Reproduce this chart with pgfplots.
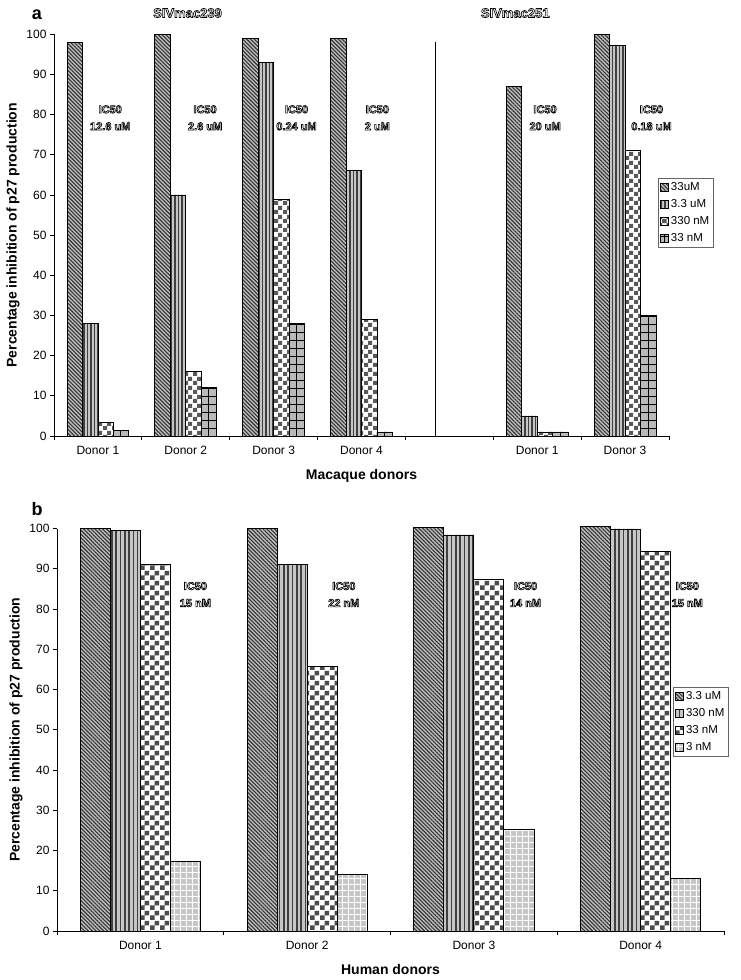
\documentclass[border=0pt]{standalone}
\usepackage{fontspec}
\setmainfont{Liberation Sans}
\usepackage{pgfplots}
\pgfplotsset{compat=1.18}
\usepackage{pgfplotstable}
\usetikzlibrary{patterns,patterns.meta}

% checkerboards, two sizes
\pgfdeclarepatternformonly{checkA}{\pgfpointorigin}{\pgfqpoint{8.6pt}{8.6pt}}{\pgfqpoint{8.6pt}{8.6pt}}{%
  \pgfpathrectangle{\pgfpointorigin}{\pgfqpoint{4.3pt}{4.3pt}}%
  \pgfpathrectangle{\pgfqpoint{4.3pt}{4.3pt}}{\pgfqpoint{4.3pt}{4.3pt}}%
  \pgfusepath{fill}}
\pgfdeclarepatternformonly{checkB}{\pgfpointorigin}{\pgfqpoint{10pt}{10pt}}{\pgfqpoint{10pt}{10pt}}{%
  \pgfpathrectangle{\pgfpointorigin}{\pgfqpoint{5pt}{5pt}}%
  \pgfpathrectangle{\pgfqpoint{5pt}{5pt}}{\pgfqpoint{5pt}{5pt}}%
  \pgfusepath{fill}}
% grids
\pgfdeclarepatternformonly{gridA}{\pgfqpoint{-0.5pt}{-0.5pt}}{\pgfqpoint{8pt}{8pt}}{\pgfqpoint{8pt}{8pt}}{%
  \pgfsetlinewidth{0.9pt}%
  \pgfpathmoveto{\pgfqpoint{0pt}{0pt}}\pgfpathlineto{\pgfqpoint{8pt}{0pt}}%
  \pgfpathmoveto{\pgfqpoint{0pt}{0pt}}\pgfpathlineto{\pgfqpoint{0pt}{8pt}}%
  \pgfusepath{stroke}}
\pgfdeclarepatternformonly{gridB}{\pgfqpoint{-0.5pt}{-0.5pt}}{\pgfqpoint{6pt}{6pt}}{\pgfqpoint{6pt}{6pt}}{%
  \pgfsetlinewidth{0.9pt}%
  \pgfpathmoveto{\pgfqpoint{0pt}{0pt}}\pgfpathlineto{\pgfqpoint{6pt}{0pt}}%
  \pgfpathmoveto{\pgfqpoint{0pt}{0pt}}\pgfpathlineto{\pgfqpoint{0pt}{6pt}}%
  \pgfusepath{stroke}}

% hollow (outlined) lettering as in the scanned figure
\newcommand{\outl}[1]{\special{pdf:literal direct 1 Tr 0.65 w}#1\special{pdf:literal direct 0 Tr}}

\pgfplotstableread{
x  A     B     C     D
0  98    28    3.3   1.3
1  100   60    16    12
2  99    93    59    28
3  99    66    29    1
5  87    5     1     1
6  100   97.3  71    30
}\macaque

\pgfplotstableread{
x  A      B     C     D
0  100    99.5  91.1  17.3
1  100    91    65.8  14.1
2  100.2  98.4  87.4  25.2
3  100.4  99.9  94.4  13.1
}\human

\tikzset{ic/.style={font=\bfseries\fontsize{11}{17}\selectfont, align=center}}

\pgfplotsset{
  boxleg/.style={legend image code/.code={\draw[##1] (0pt,-4pt) rectangle (8pt,4pt);}},
  barbase/.style={ybar, draw=black, line width=0.8pt, boxleg},
  diagA/.style={barbase, fill=gray!50,
    postaction={pattern={Lines[angle=-45,distance=2.7pt,line width=1.1pt]}, pattern color=black!80}},
  vertA/.style={barbase, fill=gray!45,
    postaction={pattern={Lines[angle=90,distance=3.5pt,line width=1.4pt]}, pattern color=black!75}},
  vertB/.style={barbase, fill=gray!45,
    postaction={pattern={Lines[angle=90,distance=4.3pt,line width=1.6pt]}, pattern color=black!75}},
  chkA/.style={barbase, fill=white, postaction={pattern=checkA, pattern color=black!65}},
  chkB/.style={barbase, fill=white, postaction={pattern=checkB, pattern color=black!70}},
  grdA/.style={barbase, fill=gray!55, postaction={pattern=gridA, pattern color=black}},
  grdB/.style={barbase, fill=gray!45, postaction={pattern=gridB, pattern color=white}},
  excel/.style={
    scale only axis, anchor=south west,
    xmin=-0.5, ymin=0, ymax=100, clip=false,
    axis lines*=left, axis line style={-, line width=0.8pt},
    x tick label as interval,
    ytick={0,10,...,100},
    tick align=outside, major tick length=4pt,
    tick style={black, line width=0.8pt},
    /pgf/number format/assume math mode=true,
    tick label style={font=\fontsize{12}{14}\selectfont},
    x tick label style={yshift=-3pt},
    label style={font=\bfseries\fontsize{14}{16}\selectfont},
    xlabel style={yshift=-7pt},
    ylabel={Percentage inhibition of p27 production},
    legend cell align=left,
    legend style={draw=black!60, line width=0.5pt, font=\fontsize{11.5}{13}\selectfont,
      inner sep=2pt, row sep=3.5pt, anchor=north west},
  },
}

\begin{document}
\begin{tikzpicture}
\path[use as bounding box] (0pt,0pt) rectangle (741pt,-980pt);

\begin{axis}[excel,
  at={(54pt,-436pt)}, width=615pt, height=401.7pt,
  xmax=6.5,
  xtick={-0.5,0.5,...,6.5},
  xticklabels={Donor 1,Donor 2,Donor 3,Donor 4,{},Donor 1,Donor 3},
  xlabel={Macaque donors},
  legend style={at={(rel axis cs:0.982,0.642)}},
]
\addplot[diagA, bar width=0.176, bar shift=-0.264] table[x=x,y=A]{\macaque};
\addplot[vertA, bar width=0.176, bar shift=-0.088] table[x=x,y=B]{\macaque};
\addplot[chkA, bar width=0.176, bar shift=0.088] table[x=x,y=C]{\macaque};
\addplot[grdA, bar width=0.176, bar shift=0.264] table[x=x,y=D]{\macaque};
\legend{33uM,3.3 uM,330 nM,33 nM}
\addplot[black, line width=0.6pt, mark=none, forget plot] coordinates {(3.84,0) (3.84,98)};

\node[font=\bfseries\fontsize{13}{15}\selectfont] at (axis cs:1.02,105.3) {\outl{SIVmac239}};
\node[font=\bfseries\fontsize{13}{15}\selectfont] at (axis cs:4.75,105.3) {\outl{SIVmac251}};
\node[ic] at (axis cs:0.14,79.2) {\outl{IC50}\\\outl{12.6 uM}};
\node[ic] at (axis cs:1.22,79.2) {\outl{IC50}\\\outl{2.6 uM}};
\node[ic] at (axis cs:2.26,79.2) {\outl{IC50}\\\outl{0.24 uM}};
\node[ic] at (axis cs:3.18,79.2) {\outl{IC50}\\\outl{2 uM}};
\node[ic] at (axis cs:5.09,79.2) {\outl{IC50}\\\outl{20 uM}};
\node[ic] at (axis cs:6.30,79.2) {\outl{IC50}\\\outl{0.18 uM}};
\end{axis}

\begin{axis}[excel,
  at={(57pt,-931pt)}, width=667pt, height=402.5pt,
  xmax=3.5,
  xtick={-0.5,0.5,...,3.5},
  xticklabels={Donor 1,Donor 2,Donor 3,Donor 4},
  xlabel={Human donors},
  legend style={at={(rel axis cs:0.9235,0.606)}},
]
\addplot[diagA, bar width=0.18, bar shift=-0.27] table[x=x,y=A]{\human};
\addplot[vertB, bar width=0.18, bar shift=-0.09] table[x=x,y=B]{\human};
\addplot[chkB, bar width=0.18, bar shift=0.09] table[x=x,y=C]{\human};
\addplot[grdB, bar width=0.18, bar shift=0.27] table[x=x,y=D]{\human};
\legend{3.3 uM,330 nM,33 nM,3 nM}

\node[ic] at (axis cs:0.33,83.6) {\outl{IC50}\\\outl{15 nM}};
\node[ic] at (axis cs:1.22,83.6) {\outl{IC50}\\\outl{22 nM}};
\node[ic] at (axis cs:2.31,83.6) {\outl{IC50}\\\outl{14 nM}};
\node[ic] at (axis cs:3.28,83.6) {\outl{IC50}\\\outl{15 nM}};
\end{axis}

\node[font=\bfseries\fontsize{18}{20}\selectfont] at (37pt,-15pt) {a};
\node[font=\bfseries\fontsize{18}{20}\selectfont] at (37pt,-509pt) {b};
\end{tikzpicture}
\end{document}
